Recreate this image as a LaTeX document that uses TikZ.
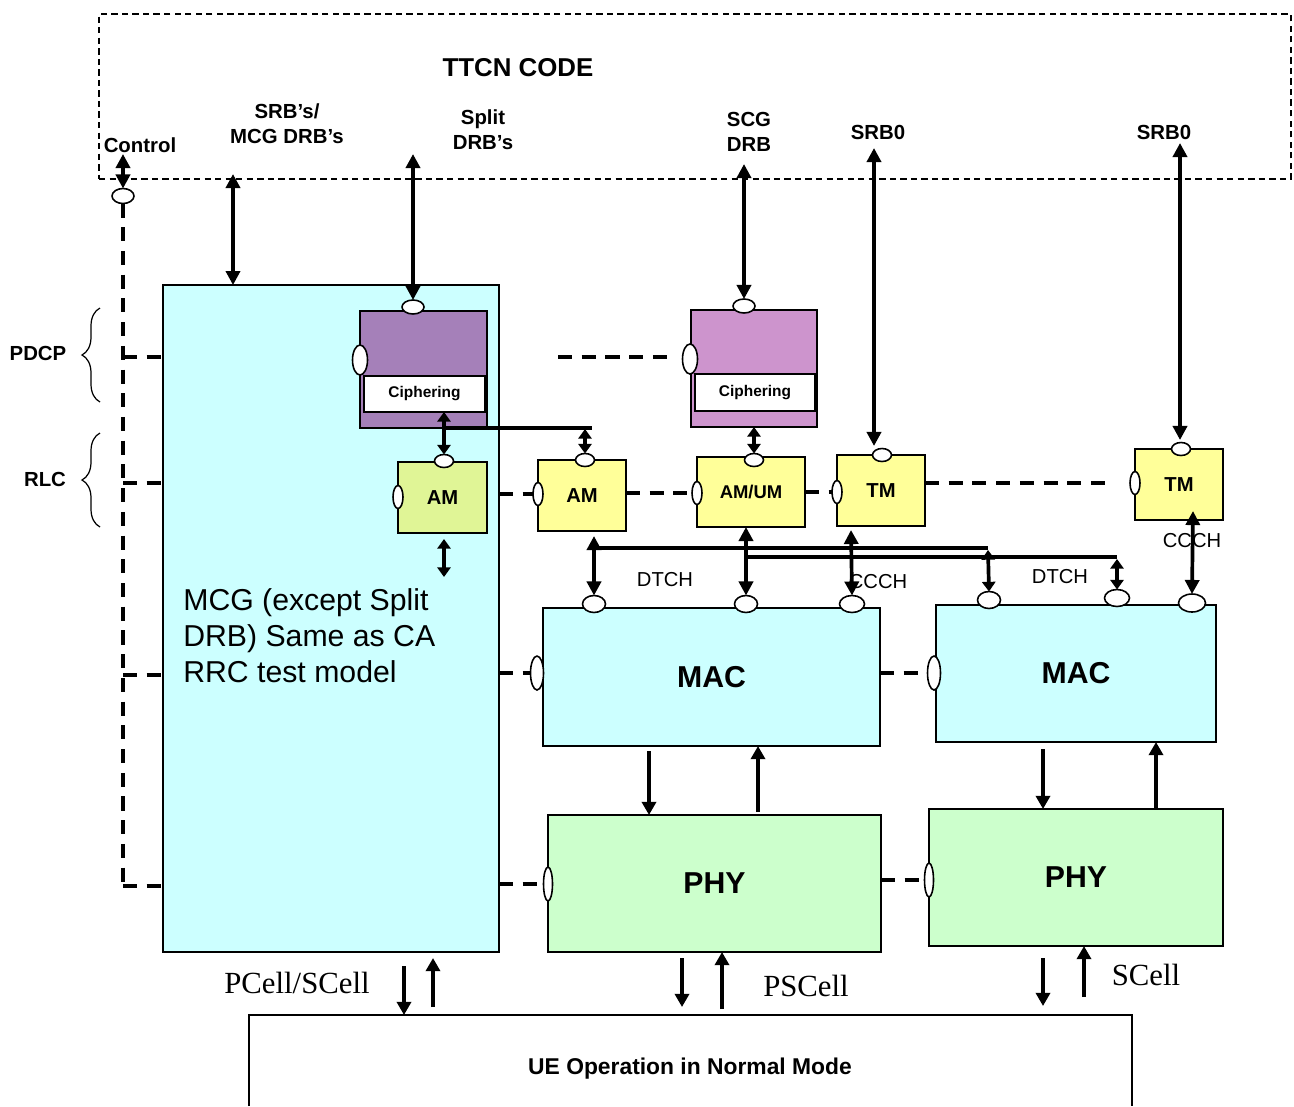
\documentclass[tikz,border=0pt]{standalone}
\usepackage{fontspec}
\setmainfont{Liberation Sans}
\newfontfamily\tnr{Liberation Serif}
\usetikzlibrary{shapes.geometric,arrows.meta,decorations.pathreplacing}
\definecolor{cyanf}{RGB}{204,255,255}
\definecolor{greenf}{RGB}{204,255,204}
\definecolor{yel}{RGB}{255,255,153}
\definecolor{ygreen}{RGB}{224,245,150}
\definecolor{purpa}{RGB}{165,128,185}
\definecolor{purpb}{RGB}{205,148,205}
\begin{document}
\begin{tikzpicture}[x=0.02cm,y=-0.02cm,
  box/.style={draw, line width=1.1pt, inner sep=0pt, outer sep=0pt},
  hport/.style={ellipse, draw, fill=white, line width=0.9pt, minimum width=0.44cm, minimum height=0.28cm, inner sep=0pt, outer sep=0pt},
  vport/.style={ellipse, draw, fill=white, line width=0.9pt, minimum width=0.24cm, minimum height=0.6cm, inner sep=0pt, outer sep=0pt},
  darr/.style={line width=2.1pt, {Triangle[length=8pt,width=8pt]}-{Triangle[length=8pt,width=8pt]}},
  darrs/.style={line width=2.1pt, {Triangle[length=5.5pt,width=7.5pt]}-{Triangle[length=5.5pt,width=7.5pt]}},
  sarr/.style={line width=2.1pt, -{Triangle[length=7.5pt,width=8pt]}},
  dashln/.style={line width=2.1pt, dash pattern=on 8pt off 5.5pt},
  plain/.style={line width=2.1pt},
  toplbl/.style={font=\bfseries\fontsize{11.6}{14}\selectfont, align=center},
  chlbl/.style={font=\fontsize{11.5}{14}\selectfont},
  cellbl/.style={font=\tnr\fontsize{17.5}{20}\selectfont},
  brc/.style={decorate, decoration={brace, amplitude=0.36cm}, line width=0.7pt}
]
\useasboundingbox (0,0) rectangle (1294,1106);

% TTCN box
\node[box, dash pattern=on 3.6pt off 2.4pt, line width=0.9pt, minimum width=23.84cm, minimum height=3.3cm] (ttcn) at (695,96.5) {};
\node[font=\bfseries\fontsize{14.7}{17}\selectfont] (ttcnlbl) at (518,68) {TTCN CODE};
\node[toplbl] (ctllbl) at (140,145) {Control};
\node[toplbl] (srblbl) at (287,124) {SRB’s/\\MCG DRB’s};
\node[toplbl] (splitlbl) at (483,130) {Split\\DRB’s};
\node[toplbl] (scglbl) at (749,132) {SCG\\DRB};
\node[toplbl] (s0lbla) at (878,132) {SRB0};
\node[toplbl] (s0lblb) at (1164,132) {SRB0};

% braces
\coordinate (pb1) at (100,402); \coordinate (pb2) at (100,308);
\coordinate (rb1) at (100,527); \coordinate (rb2) at (100,433);
\draw[brc] (pb1) -- (pb2);
\draw[brc] (rb1) -- (rb2);
\node[toplbl] (pdcplbl) at (38,353) {PDCP};
\node[toplbl] (rlclbl) at (45,479) {RLC};

% control bus
\node[hport, minimum width=0.44cm, minimum height=0.3cm] (ctlp) at (123,196) {};
\coordinate (ctltop) at (123,154);
\coordinate (b1) at (123,357);
\coordinate (b2) at (123,483);
\coordinate (b3) at (123,675);
\coordinate (b4) at (123,886);

% main boxes
\node[box, fill=cyanf, minimum width=6.72cm, minimum height=13.34cm] (mcg) at (331,618.5) {};
\node[anchor=west, align=left, inner sep=0pt, font=\fontsize{17.2}{20.4}\selectfont] (mcgtxt) at (183,636) {MCG (except Split\\DRB) Same as CA\\RRC test model};

\draw[dashln] (ctlp.south) -- (b4);
\draw[dashln] (b1) -- (b1 -| mcg.west);
\draw[dashln] (b2) -- (b2 -| mcg.west);
\draw[dashln] (b3) -- (b3 -| mcg.west);
\draw[dashln] (b4) -- (b4 -| mcg.west);
\draw[darr] (ctltop) -- (ctlp.north);

% PDCP
\node[box, fill=purpa, minimum width=2.54cm, minimum height=2.34cm] (cipa) at (423.5,369.5) {};
\node[box, fill=white, minimum width=2.42cm, minimum height=0.72cm, font=\bfseries\fontsize{8.8}{10}\selectfont] (cipain) at (424.5,394) {Ciphering};
\node[hport] (cipat) at (413,307) {};
\node[vport, minimum width=0.3cm] (cipal) at (360,360) {};

\node[box, fill=purpb, minimum width=2.52cm, minimum height=2.34cm] (cipb) at (754,368.5) {};
\node[box, fill=white, minimum width=2.40cm, minimum height=0.74cm, font=\bfseries\fontsize{8.8}{10}\selectfont] (cipbin) at (755,392.5) {Ciphering};
\node[hport] (cipbt) at (744,306) {};
\node[vport, minimum width=0.3cm] (cipbl) at (690,359) {};
\coordinate (pda) at (558,357); \coordinate (pdb) at (672,357);
\draw[dashln] (pda) -- (pdb);

% RLC
\node[box, fill=ygreen, minimum width=1.78cm, minimum height=1.42cm, font=\bfseries\fontsize{11.5}{13}\selectfont] (ama) at (442.5,497.5) {AM};
\node[hport, minimum width=0.38cm, minimum height=0.26cm] (amat) at (444,461) {};
\node[vport, minimum width=0.2cm, minimum height=0.46cm] (amal) at (398,497) {};

\node[box, fill=yel, minimum width=1.76cm, minimum height=1.42cm, font=\bfseries\fontsize{11.5}{13}\selectfont] (amb) at (582,495.5) {AM};
\node[hport, minimum width=0.38cm, minimum height=0.26cm] (ambt) at (585,460) {};
\node[vport, minimum width=0.2cm, minimum height=0.46cm] (ambl) at (538,494) {};

\node[box, fill=yel, minimum width=2.16cm, minimum height=1.40cm, font=\bfseries\fontsize{10.5}{12}\selectfont] (amum) at (751,492) {AM/UM};
\node[hport, minimum width=0.38cm, minimum height=0.26cm] (amumt) at (754,460) {};
\node[vport, minimum width=0.2cm, minimum height=0.46cm] (amuml) at (697,493) {};

\node[box, fill=yel, minimum width=1.76cm, minimum height=1.42cm, font=\bfseries\fontsize{11.5}{13}\selectfont] (tma) at (881,490.5) {TM};
\node[hport, minimum width=0.38cm, minimum height=0.26cm] (tmat) at (882,455) {};
\node[vport, minimum width=0.2cm, minimum height=0.46cm] (tmal) at (837,492) {};

\node[box, fill=yel, minimum width=1.76cm, minimum height=1.42cm, font=\bfseries\fontsize{11.5}{13}\selectfont] (tmb) at (1179,484.5) {TM};
\node[hport, minimum width=0.38cm, minimum height=0.26cm] (tmbt) at (1181,449) {};
\node[vport, minimum width=0.2cm, minimum height=0.46cm] (tmbl) at (1135,483) {};

\draw[dashln] (mcg.east |- ambl) -- (ambl.west);
\draw[dashln] (amb.east |- amuml) -- (amuml.west);
\draw[dashln] (amum.east |- tmal) -- (tmal.west);
\coordinate (tmdash) at (1112,483);
\draw[dashln] (tma.east |- tmbl) -- (tmdash);

% MAC
\node[box, fill=cyanf, minimum width=6.74cm, minimum height=2.76cm, font=\bfseries\fontsize{17.2}{20}\selectfont] (maca) at (711.5,677) {MAC};
\node[hport, minimum width=0.46cm, minimum height=0.34cm] (macap1) at (594,604) {};
\node[hport, minimum width=0.46cm, minimum height=0.34cm] (macap2) at (746,604) {};
\node[hport, minimum width=0.5cm, minimum height=0.34cm] (macap3) at (852,604) {};
\node[vport, minimum width=0.26cm, minimum height=0.68cm] (macal) at (537,673) {};

\node[box, fill=cyanf, minimum width=5.60cm, minimum height=2.74cm, font=\bfseries\fontsize{17.2}{20}\selectfont] (macb) at (1076,673.5) {MAC};
\node[hport, minimum width=0.46cm, minimum height=0.34cm] (macbp1) at (989,600) {};
\node[hport, minimum width=0.5cm, minimum height=0.34cm] (macbp2) at (1117,598) {};
\node[hport, minimum width=0.54cm, minimum height=0.36cm] (macbp3) at (1192,603) {};
\node[vport, minimum width=0.26cm, minimum height=0.68cm] (macbl) at (934,673) {};

\draw[dashln] (mcg.east |- macal) -- (macal.west);
\draw[dashln] (maca.east |- macbl) -- (macbl.west);

% PHY
\node[box, fill=greenf, minimum width=6.66cm, minimum height=2.74cm, font=\bfseries\fontsize{17.2}{20}\selectfont] (phya) at (714.5,883.5) {PHY};
\node[vport, minimum width=0.18cm, minimum height=0.68cm] (phyal) at (548,884) {};
\node[box, fill=greenf, minimum width=5.88cm, minimum height=2.74cm, font=\bfseries\fontsize{17.2}{20}\selectfont] (phyb) at (1076,877.5) {PHY};
\node[vport, minimum width=0.18cm, minimum height=0.68cm] (phybl) at (929,880) {};

\draw[dashln] (mcg.east |- phyal) -- (phyal.west);
\draw[dashln] (phya.east |- phybl) -- (phybl.west);

% top arrows
\coordinate (srbtop) at (233,174);
\draw[darr] (srbtop) -- (srbtop |- mcg.north);
\coordinate (splittop) at (413,154);
\draw[darr] (splittop) -- (cipat.north);
\coordinate (scgtop) at (744,164);
\draw[darr] (scgtop) -- (cipbt.north);
\coordinate (s0a) at (874,148);
\draw[darr] (s0a) -- (874,446);
\coordinate (s0b) at (1180,143);
\draw[darr] (s0b) -- (1180,440);

% PDCP -> RLC
\draw[darrs] (cipain.south -| amat) -- (amat.north);
\coordinate (hla) at (444,428); \coordinate (hlb) at (592,428);
\draw[plain] (hla) -- (hlb);
\coordinate (hlc) at (585,429);
\draw[darrs] (hlc) -- (ambt.north);
\draw[darrs] (cipb.south -| amumt) -- (amumt.north);
\coordinate (amd1) at (444,539); \coordinate (amd2) at (444,577);
\draw[darrs] (amd1) -- (amd2);

% channel labels
\node[chlbl] (dtcha) at (665,580) {DTCH};
\node[chlbl] (ccch a) at (878,582) {CCCH};
\node[chlbl] (dtchb) at (1060,577) {DTCH};
\node[chlbl] (ccchb) at (1192,541) {CCCH};

% RLC -> MAC
\coordinate (ra) at (594,536);
\draw[darr] (ra) -- (macap1.north);
\coordinate (rla) at (594,548); \coordinate (rlb) at (988,548);
\draw[plain] (rla) -- (rlb);
\draw[darrs] (988,550) -- (macbp1.north);
\draw[darr] (amum.south -| macap2) -- (macap2.north);
\coordinate (rlc) at (746,557); \coordinate (rld) at (1117,557);
\draw[plain] (rlc) -- (rld);
\draw[darrs] (1117,559) -- (macbp2.north);
\coordinate (rtm) at (851,530);
\draw[darr] (rtm) -- (macap3.north);
\coordinate (rtmb) at (1193,511);
\draw[darr] (rtmb) -- (macbp3.north);

% MAC <-> PHY
\coordinate (mad) at (649,751);
\draw[sarr] (mad) -- (mad |- phya.north);
\coordinate (mau) at (758,812);
\draw[sarr] (mau) -- (mau |- maca.south);
\coordinate (mbd) at (1043,749);
\draw[sarr] (mbd) -- (mbd |- phyb.north);
\coordinate (mbu) at (1156,809);
\draw[sarr] (mbu) -- (mbu |- macb.south);

% UE
\node[inner sep=0pt, outer sep=0pt, minimum width=17.66cm, minimum height=1.82cm] (ue) at (690.5,1060.5) {};
\draw[line width=1.1pt] (ue.south west) -- (ue.north west) -- (ue.north east) -- (ue.south east);
\node[font=\bfseries\fontsize{13}{15}\selectfont] (uelbl) at (690,1069) {UE Operation in Normal Mode};

\coordinate (mgd) at (404,966);
\draw[sarr] (mgd) -- (mgd |- ue.north);
\coordinate (mgu) at (433,1007);
\draw[sarr] (mgu) -- (433,958);
\coordinate (pad) at (682,958);
\draw[sarr] (pad) -- (682,1007);
\coordinate (pau) at (722,1009);
\draw[sarr] (pau) -- (pau |- phya.south);
\coordinate (pbd) at (1043,958);
\draw[sarr] (pbd) -- (1043,1006);
\coordinate (pbu) at (1084,997);
\draw[sarr] (pbu) -- (pbu |- phyb.south);

\node[cellbl] (pcell) at (297,983) {PCell/SCell};
\node[cellbl] (pscell) at (806,986) {PSCell};
\node[cellbl] (scell) at (1146,975) {SCell};
\end{tikzpicture}
\end{document}
